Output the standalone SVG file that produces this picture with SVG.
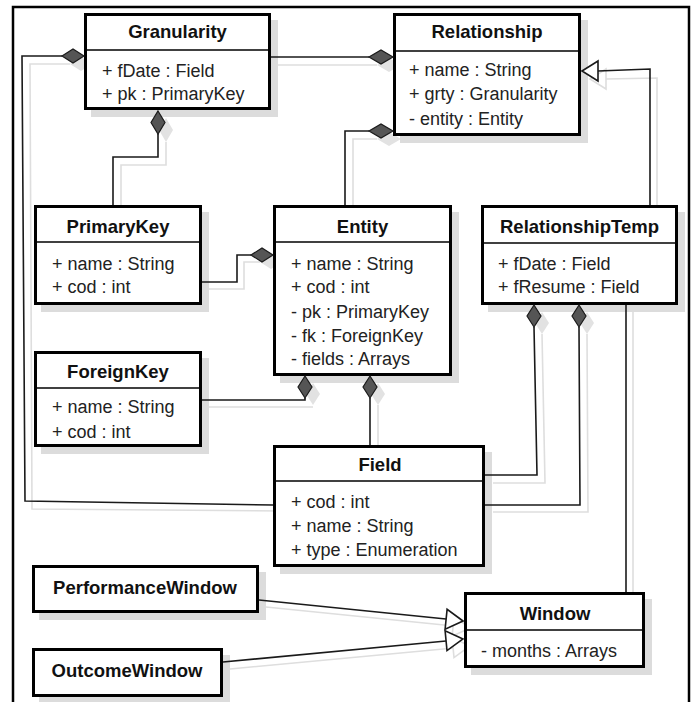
<svg xmlns="http://www.w3.org/2000/svg" width="696" height="702" viewBox="0 0 696 702">
<defs>
<style>
.frame{fill:none;stroke:#000;stroke-width:2.5}
.box{fill:#fff;stroke:#000;stroke-width:3}
.bsh{fill:#dcdcdc}
.div{stroke:#000;stroke-width:1.5}
.t{font-family:"Liberation Sans",Arial,sans-serif;font-weight:bold;font-size:18.5px;fill:#111;text-anchor:middle}
.a{font-family:"Liberation Sans",Arial,sans-serif;font-size:18px;fill:#222}
.ln{fill:none;stroke:#1a1a1a;stroke-width:1.6}
.sh{fill:none;stroke:#dedede;stroke-width:1.6}
.dia{fill:#555;stroke:#1a1a1a;stroke-width:1.2}
.dsh{fill:#e2e2e2;stroke:none}
.tri{fill:#fff;stroke:#1a1a1a;stroke-width:1.6}
.tsh{fill:#fff;stroke:#dedede;stroke-width:1.6}
</style>
</defs>
<rect x="0" y="0" width="696" height="702" fill="#fff"/>
<rect class="frame" x="13" y="7" width="676" height="730"/>

<g id="connector-shadows">
<polyline class="sh" points="271,65 377,65"/>
<polygon class="dsh" points="401,65 389,58 377,65 389,72"/>
<polyline class="sh" points="283,511 32,509 30,64 70,64"/>
<polygon class="dsh" points="92,64 81,57 70,64 81,71"/>
<polyline class="sh" points="166,142 166,165 121,165 121,213"/>
<polygon class="dsh" points="166,118 173,130 166,142 159,130"/>
<polyline class="sh" points="202,289 244,289 244,262 260,262"/>
<polygon class="dsh" points="282,262 271,255 260,262 271,269"/>
<polyline class="sh" points="202,407 313,407"/>
<polygon class="dsh" points="313,383 320,394 313,405 306,394"/>
<polyline class="sh" points="353,205 353,139 377,139"/>
<polygon class="dsh" points="401,139 389,132 377,139 389,146"/>
<polyline class="sh" points="378,405 378,453"/>
<polygon class="dsh" points="378,383 385,394 378,405 371,394"/>
<polyline class="sh" points="657,212 657,78 606,79"/>
<polygon class="tsh" points="590,79 606,69 606,89"/>
<polyline class="sh" points="542,334 545,483 493,483"/>
<polygon class="dsh" points="542,312 549,323 542,334 535,323"/>
<polyline class="sh" points="587,334 588,512 493,512"/>
<polygon class="dsh" points="587,312 594,323 587,334 580,323"/>
<polyline class="sh" points="633,305 633,600"/>
<polyline class="sh" points="266,607 454,626"/>
<polygon class="tsh" points="470,628 454.1,616.3 452.1,636.2"/>
<polyline class="sh" points="230,669 454,648"/>
<polygon class="tsh" points="470,646 452.1,637.7 454,657.6"/>
</g>

<g id="Granularity">
<rect class="bsh" x="91" y="20" width="187" height="97"/>
<rect class="box" x="85.5" y="14.5" width="184" height="94"/>
<line class="div" x1="85" y1="50" x2="270" y2="50"/>
<text class="t" x="177.5" y="38">Granularity</text>
<text class="a" x="102" y="77">+ fDate : Field</text>
<text class="a" x="102" y="100">+ pk : PrimaryKey</text>
</g>

<g id="Relationship">
<rect class="bsh" x="400" y="20" width="188" height="123"/>
<rect class="box" x="394.5" y="14.5" width="185" height="120"/>
<line class="div" x1="394" y1="51" x2="580" y2="51"/>
<text class="t" x="487" y="38">Relationship</text>
<text class="a" x="409" y="76">+ name : String</text>
<text class="a" x="409" y="100">+ grty : Granularity</text>
<text class="a" x="409" y="125">- entity : Entity</text>
</g>

<g id="PrimaryKey">
<rect class="bsh" x="41" y="212" width="168" height="100"/>
<rect class="box" x="35.5" y="206.5" width="165" height="97"/>
<line class="div" x1="35" y1="242" x2="201" y2="242"/>
<text class="t" x="118" y="233">PrimaryKey</text>
<text class="a" x="52" y="270">+ name : String</text>
<text class="a" x="52" y="293">+ cod : int</text>
</g>

<g id="Entity">
<rect class="bsh" x="280" y="212" width="179" height="171"/>
<rect class="box" x="274.5" y="206.5" width="176" height="168"/>
<line class="div" x1="274" y1="242" x2="451" y2="242"/>
<text class="t" x="362.5" y="233">Entity</text>
<text class="a" x="291" y="270">+ name : String</text>
<text class="a" x="291" y="293">+ cod : int</text>
<text class="a" x="291" y="318">- pk : PrimaryKey</text>
<text class="a" x="291" y="342">- fk : ForeignKey</text>
<text class="a" x="291" y="365">- fields : Arrays</text>
</g>

<g id="RelationshipTemp">
<rect class="bsh" x="488" y="212" width="197" height="100"/>
<rect class="box" x="482.5" y="206.5" width="194" height="97"/>
<line class="div" x1="482" y1="243" x2="677" y2="243"/>
<text class="t" x="579.5" y="233">RelationshipTemp</text>
<text class="a" x="498" y="270">+ fDate : Field</text>
<text class="a" x="498" y="293">+ fResume : Field</text>
</g>

<g id="ForeignKey">
<rect class="bsh" x="41" y="358" width="168" height="96"/>
<rect class="box" x="35.5" y="352.5" width="165" height="93"/>
<line class="div" x1="35" y1="388" x2="201" y2="388"/>
<text class="t" x="118" y="378">ForeignKey</text>
<text class="a" x="52" y="413">+ name : String</text>
<text class="a" x="52" y="438">+ cod : int</text>
</g>

<g id="Field">
<rect class="bsh" x="280" y="452" width="212" height="122"/>
<rect class="box" x="274.5" y="446.5" width="209" height="119"/>
<line class="div" x1="274" y1="481" x2="484" y2="481"/>
<text class="t" x="380" y="471">Field</text>
<text class="a" x="291" y="508">+ cod : int</text>
<text class="a" x="291" y="532">+ name : String</text>
<text class="a" x="291" y="556">+ type : Enumeration</text>
</g>

<g id="PerformanceWindow">
<rect class="bsh" x="39" y="572" width="227" height="48"/>
<rect class="box" x="33.5" y="566.5" width="224" height="45"/>
<text class="t" x="145" y="594">PerformanceWindow</text>
</g>

<g id="OutcomeWindow">
<rect class="bsh" x="39" y="655" width="191" height="49"/>
<rect class="box" x="33.5" y="649.5" width="188" height="46"/>
<text class="t" x="127" y="677">OutcomeWindow</text>
</g>

<g id="Window">
<rect class="bsh" x="471" y="599" width="181" height="76"/>
<rect class="box" x="465.5" y="593.5" width="178" height="73"/>
<line class="div" x1="465" y1="630" x2="644" y2="630"/>
<text class="t" x="555" y="620">Window</text>
<text class="a" x="481" y="657">- months : Arrays</text>
</g>

<g id="connectors">
<polyline class="ln" points="271,57 369,57"/>
<polygon class="dia" points="393,57 381,50 369,57 381,64"/>
<polyline class="ln" points="273,505 25,501 22,56 62,56"/>
<polygon class="dia" points="84,56 73,49 62,56 73,63"/>
<polyline class="ln" points="158,134 158,157 113,157 113,205"/>
<polygon class="dia" points="158,111 165,122.5 158,134 151,122.5"/>
<polyline class="ln" points="202,282 237,282 237,255 251,255"/>
<polygon class="dia" points="273,255 262,248 251,255 262,262"/>
<polyline class="ln" points="202,400 305,400 305,398"/>
<polygon class="dia" points="305,376 312,387 305,398 298,387"/>
<polyline class="ln" points="345,205 345,131 369,131"/>
<polygon class="dia" points="393,131 381,124 369,131 381,138"/>
<polyline class="ln" points="370,398 370,445"/>
<polygon class="dia" points="370,376 377,387 370,398 363,387"/>
<polyline class="ln" points="650,205 650,69 598,71"/>
<polygon class="tri" points="582,71 598,61 598,81"/>
<polyline class="ln" points="534,327 537,475 485,475"/>
<polygon class="dia" points="534,305 541,316 534,327 527,316"/>
<polyline class="ln" points="579,327 580,505 485,505"/>
<polygon class="dia" points="579,305 586,316 579,327 572,316"/>
<polyline class="ln" points="626,305 626,592"/>
<polyline class="ln" points="259,600 446,619"/>
<polygon class="tri" points="463,621 447.1,609.3 445.1,629.2"/>
<polyline class="ln" points="223,662 446,641"/>
<polygon class="tri" points="463,639 445.1,630.7 447,650.6"/>
</g>
</svg>
